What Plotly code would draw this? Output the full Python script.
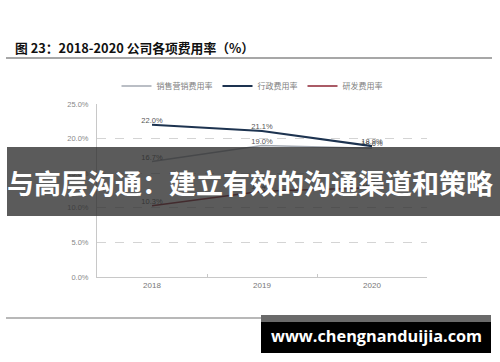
import plotly.graph_objects as go

W, H = 500, 362
L, R, T, B = 97, 73, 104, 85

years = ["2018", "2019", "2020"]
sales_rate = [16.7, 19.0, 18.6]
admin_rate = [22.0, 21.1, 18.9]
rd_rate = [10.3, 12.4, 12.9]
series_names = ["销售营销费用率", "行政费用率", "研发费用率"]
y_ticks = [0, 5, 10, 15, 20, 25]

def px(x):
    return (x - L) / (W - L - R)

def py(y):
    return (H - B - y) / (H - T - B)

fig = go.Figure()
colors = ["#a3a9b2", "#1d3350", "#8e2533"]
widths = [1.6, 2.2, 1.6]
for name, vals, c, w in zip(series_names, [sales_rate, admin_rate, rd_rate], colors, widths):
    fig.add_trace(go.Scatter(
        x=years, y=vals, name=name, mode="lines+text",
        line=dict(color=c, width=w),
        text=[f"{v:.1f}%" for v in vals], textposition="top center",
        textfont=dict(size=7.5, color="#555555", family="Liberation Sans"),
        cliponaxis=False,
    ))

font_fam = "Liberation Sans, Noto Sans CJK SC, sans-serif"
fig.update_layout(
    width=W, height=H,
    margin=dict(l=L, r=R, t=T, b=B),
    paper_bgcolor="white", plot_bgcolor="white",
    font=dict(family=font_fam, color="#777777", size=7),
    showlegend=True,
    legend=dict(orientation="h", xanchor="center", yanchor="middle",
                x=px(252), y=py(86), font=dict(size=8, color="#808080"),
                itemwidth=30, tracegroupgap=0, bgcolor="rgba(0,0,0,0)"),
    xaxis=dict(type="category", range=[-0.5, 2.5], showgrid=False,
               showline=True, linecolor="#c8c8c8", linewidth=1,
               ticks="inside", tickson="boundaries", ticklen=3, tickcolor="#c8c8c8",
               tickfont=dict(size=8, color="#777777")),
    yaxis=dict(range=[0, 25], tickvals=y_ticks, ticktext=[f"{v:.1f}%" for v in y_ticks],
               showgrid=True, gridcolor="#d4d4d4", griddash="dash", gridwidth=1,
               showline=True, linecolor="#c8c8c8", linewidth=1, zeroline=False,
               tickfont=dict(size=7.5, color="#888888"), ticks="", ticklabelstandoff=6),
)

shapes = []
shapes.append(dict(type="line", xref="paper", yref="paper", x0=px(6), x1=px(492), y0=py(58), y1=py(58),
                   line=dict(color="#8a8a8a", width=1.5)))
shapes.append(dict(type="line", xref="paper", yref="paper", x0=px(6), x1=px(490), y0=py(318), y1=py(318),
                   line=dict(color="#a0a0a0", width=1.5)))
shapes.append(dict(type="rect", xref="paper", yref="paper", x0=px(7), x1=px(500), y0=py(216), y1=py(147),
                   fillcolor="rgba(45,45,45,0.78)", line=dict(width=0), layer="above"))
shapes.append(dict(type="rect", xref="paper", yref="paper", x0=px(261), x1=px(491), y0=py(322), y1=py(315),
                   fillcolor="#6a6a6a", line=dict(width=0), layer="above"))
shapes.append(dict(type="rect", xref="paper", yref="paper", x0=px(261), x1=px(491), y0=py(353), y1=py(322),
                   fillcolor="#000000", line=dict(width=0), layer="above"))
fig.update_layout(shapes=shapes)

fig.add_annotation(text="图 23：2018-2020 公司各项费用率（%）", xref="paper", yref="paper",
                   x=px(13), y=py(47), xanchor="left", yanchor="middle", showarrow=False,
                   font=dict(size=12.8, color="#111111", family="Noto Sans CJK SC, sans-serif", weight="bold"))
fig.add_annotation(text="与高层沟通：建立有效的沟通渠道和策略", xref="paper", yref="paper",
                   x=px(250), y=py(182), xanchor="center", yanchor="middle", showarrow=False,
                   font=dict(size=27, color="white", family="Noto Sans CJK SC, sans-serif", weight="bold"))
fig.add_annotation(text="www.chengnanduijia.com", xref="paper", yref="paper",
                   x=px(376), y=py(336), xanchor="center", yanchor="middle", showarrow=False,
                   font=dict(size=16.3, color="white", family="Open Sans, sans-serif", weight="bold"))

fig.write_html("out.html", config={"displayModeBar": False},
               post_script="document.body.style.margin='0';")
